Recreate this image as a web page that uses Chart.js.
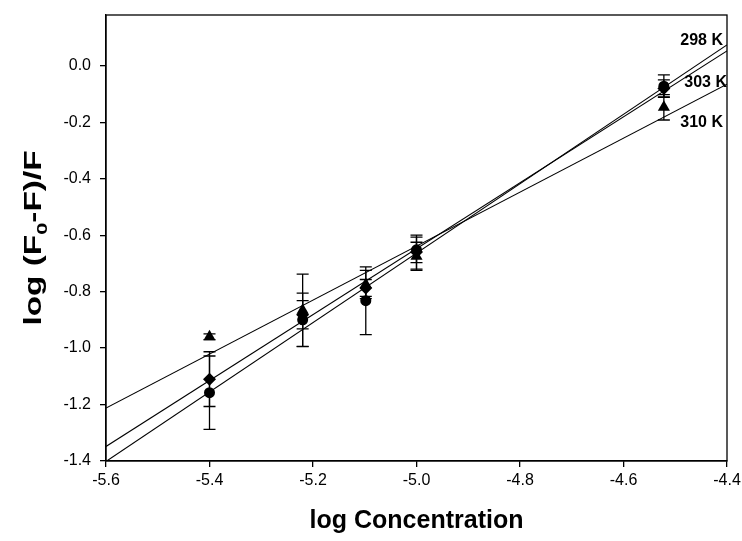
<!DOCTYPE html>
<html>
<head>
<meta charset="utf-8">
<script src="https://cdn.jsdelivr.net/npm/chart.js@4.4.1/dist/chart.umd.min.js"></script>
<style>
  html, body { margin: 0; padding: 0; background: #fff; }
  #wrap { width: 742px; height: 541px; }
</style>
</head>
<body>
<div id="wrap"><canvas id="chart"></canvas></div>
<script>
// data
const logConc = [-5.4, -5.22, -5.098, -5.0, -4.522];

const y298 = [-1.158, -0.900, -0.832, -0.652, -0.072];
const err298 = [0.13, 0.095, 0.12, 0.045, 0.04];

const y303 = [-1.110, -0.882, -0.787, -0.660, -0.080];
const err303 = [0.097, 0.05, 0.03, 0.06, 0.03];

const y310 = [-0.960, -0.866, -0.775, -0.675, -0.147];
const err310 = [0.01, 0.128, 0.05, 0.05, 0.045];

const xTicks = [-5.6, -5.4, -5.2, -5.0, -4.8, -4.6, -4.4];
const yTicks = [-1.4, -1.2, -1.0, -0.8, -0.6, -0.4, -0.2, 0.0];
const xMin = -5.6, xMax = -4.4, yMin = -1.4, yMax = 0.18;

const FONT = "'Liberation Sans', Arial, sans-serif";

// least squares line, drawn across the whole x range
function fitLine(xs, ys) {
  const n = xs.length;
  const mx = xs.reduce((a, b) => a + b, 0) / n;
  const my = ys.reduce((a, b) => a + b, 0) / n;
  let sxy = 0, sxx = 0;
  for (let i = 0; i < n; i++) {
    sxy += (xs[i] - mx) * (ys[i] - my);
    sxx += (xs[i] - mx) * (xs[i] - mx);
  }
  const b = sxy / sxx;
  return [{ x: xMin, y: my + b * (xMin - mx) }, { x: xMax, y: my + b * (xMax - mx) }];
}

const pts = ys => logConc.map((x, i) => ({ x: x, y: ys[i] }));

function markerSet(label, ys, errs, style, radius) {
  return {
    type: 'scatter', label: label, data: pts(ys), errs: errs,
    pointStyle: style, pointRadius: radius,
    backgroundColor: '#000', borderColor: '#000', borderWidth: 0
  };
}
function lineSet(label, ys) {
  return {
    type: 'line', label: label, data: fitLine(logConc, ys),
    borderColor: '#000', borderWidth: 1.1, pointRadius: 0, fill: false
  };
}

// error bars + frame + texts
const extras = {
  id: 'extras',
  beforeDatasetsDraw(chart) {
    const { ctx, scales: { x, y } } = chart;
    ctx.save();
    ctx.strokeStyle = '#000';
    ctx.lineWidth = 1.3;
    chart.data.datasets.forEach(ds => {
      if (!ds.errs) return;
      ds.data.forEach((p, i) => {
        const e = ds.errs[i];
        const px = x.getPixelForValue(p.x);
        const top = y.getPixelForValue(p.y + e);
        const bot = y.getPixelForValue(p.y - e);
        ctx.beginPath();
        ctx.moveTo(px, top); ctx.lineTo(px, bot);
        ctx.moveTo(px - 6, top); ctx.lineTo(px + 6, top);
        ctx.moveTo(px - 6, bot); ctx.lineTo(px + 6, bot);
        ctx.stroke();
      });
    });
    ctx.restore();
  },
  afterDraw(chart) {
    const { ctx, chartArea: a, scales: { x, y } } = chart;
    ctx.save();
    ctx.strokeStyle = '#000';
    ctx.lineWidth = 1.3;
    ctx.strokeRect(a.left, a.top, a.right - a.left, a.bottom - a.top);

    // temperature labels
    ctx.fillStyle = '#000';
    ctx.font = 'bold 16px ' + FONT;
    ctx.textAlign = 'right';
    ctx.textBaseline = 'middle';
    ctx.fillText('298 K', a.right - 4, y.getPixelForValue(0.09));
    ctx.fillText('303 K', a.right, y.getPixelForValue(-0.06));
    ctx.fillText('310 K', a.right - 4, y.getPixelForValue(-0.2));

    // x title
    ctx.font = 'bold 25px ' + FONT;
    ctx.textAlign = 'center';
    ctx.textBaseline = 'alphabetic';
    ctx.fillText('log Concentration', (a.left + a.right) / 2, 528);

    // y title with subscript 0 (stretched along its length as in the source)
    ctx.translate(41, (a.top + a.bottom) / 2);
    ctx.rotate(-Math.PI / 2);
    ctx.scale(1.45, 1);
    const big = 'bold 23px ' + FONT, small = 'bold 15px ' + FONT;
    const parts = [['log (F', big, 0], ['0', small, 6], ['-F)/F', big, 0]];
    let w = 0;
    parts.forEach(p => { ctx.font = p[1]; w += ctx.measureText(p[0]).width; });
    let cx = -w / 2;
    ctx.textAlign = 'left';
    parts.forEach(p => {
      ctx.font = p[1];
      ctx.fillText(p[0], cx, p[2]);
      cx += ctx.measureText(p[0]).width;
    });
    ctx.restore();
  }
};

new Chart(document.getElementById('chart'), {
  data: {
    datasets: [
      lineSet('298 K fit', y298),
      lineSet('303 K fit', y303),
      lineSet('310 K fit', y310),
      markerSet('298 K', y298, err298, 'circle', 5.5),
      markerSet('303 K', y303, err303, 'rectRot', 6.5),
      markerSet('310 K', y310, err310, 'triangle', 7)
    ]
  },
  options: {
    responsive: true,
    maintainAspectRatio: false,
    animation: false,
    layout: { padding: { top: 15, right: 15 } },
    plugins: { legend: { display: false }, tooltip: { enabled: false } },
    scales: {
      x: {
        type: 'linear', min: xMin, max: xMax,
        afterBuildTicks: s => { s.ticks = xTicks.map(v => ({ value: v })); },
        afterFit: s => { s.height = 80; s.paddingLeft = 0; s.paddingRight = 0; },
        grid: { drawOnChartArea: false, tickLength: 6, color: '#000', lineWidth: 1.3 },
        border: { color: '#000', width: 1.3 },
        ticks: { color: '#000', font: { family: FONT, size: 16 }, padding: 4, maxRotation: 0,
                 callback: v => v.toFixed(1) }
      },
      y: {
        type: 'linear', min: yMin, max: yMax,
        afterBuildTicks: s => { s.ticks = yTicks.map(v => ({ value: v })); },
        afterFit: s => { s.width = 106; s.paddingTop = 0; s.paddingBottom = 0; },
        grid: { drawOnChartArea: false, tickLength: 6, color: '#000', lineWidth: 1.3 },
        border: { color: '#000', width: 1.3 },
        ticks: { color: '#000', font: { family: FONT, size: 16 }, padding: 9,
                 callback: v => v.toFixed(1) }
      }
    }
  },
  plugins: [extras]
});
</script>
</body>
</html>
